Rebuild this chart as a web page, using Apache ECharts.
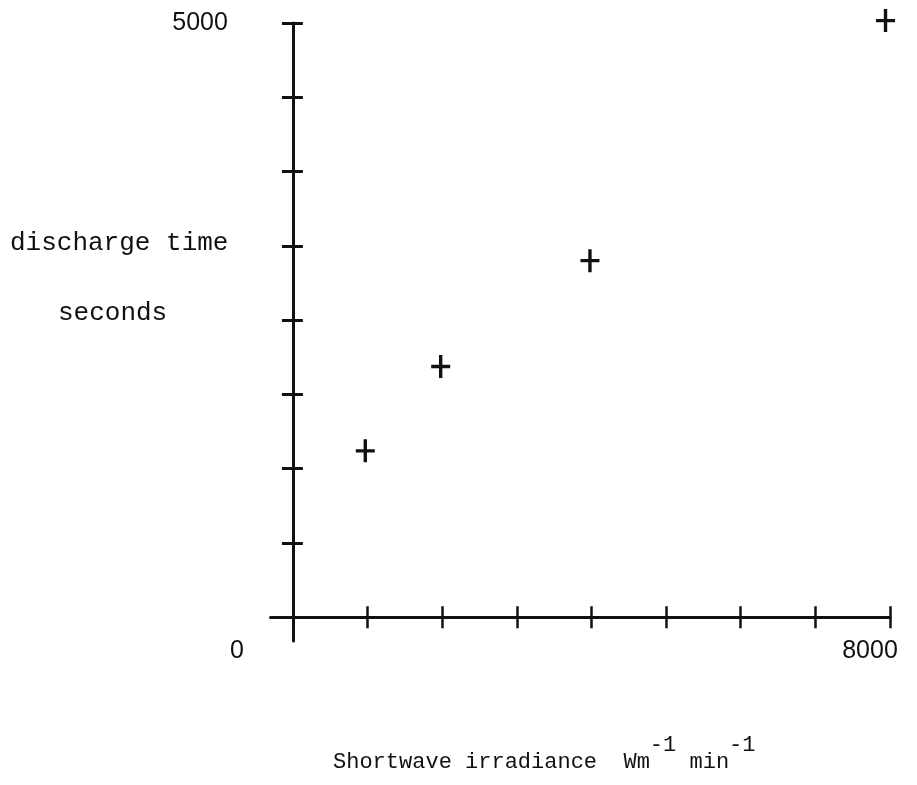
<!DOCTYPE html>
<html>
<head>
<meta charset="utf-8">
<script src="https://cdn.jsdelivr.net/npm/echarts@6/dist/echarts.min.js"></script>
<style>
  html, body { margin: 0; padding: 0; background: #fff; }
  #chart { width: 917px; height: 785px; }
</style>
</head>
<body>
<div id="chart"></div>
<script>
// data
const irradiance = [970, 1980, 3980, 7940]
const dischargeTime = [1400, 2110, 3000, 5020]

// tick marks and the few printed labels
const xTicks = [1000, 2000, 3000, 4000, 5000, 6000, 7000, 8000]
const yTicks = [625, 1250, 1875, 2500, 3125, 3750, 4375, 5000]
const xLabels = [0, 8000]
const yLabels = [5000]

const ink = '#111'
const mono = 'Liberation Mono'
const sans = 'Liberation Sans'

const chart = echarts.init(document.getElementById('chart'))

// axes start a bit below zero so the lines run past the origin like the drawing
const xMin = -300
const yMin = -200

// one axis carries ticks inwards, the twin outwards -> ticks cross the line
const makeX = (inside, main) => ({
  type: 'value',
  position: 'bottom',
  min: xMin,
  max: 8000,
  offset: -23.8,
  splitLine: { show: false },
  axisLine: { show: main, onZero: false, lineStyle: { color: ink, width: 3 } },
  axisTick: {
    show: true,
    inside: inside,
    length: 11,
    customValues: xTicks,
    lineStyle: { color: ink, width: 2.5 },
  },
  axisLabel: {
    show: main,
    customValues: xLabels,
    margin: 21,
    formatter: (v) => (v === 0 ? '{z|0}' : '{e|' + v + '}'),
    rich: {
      z: { fontFamily: sans, fontSize: 25, color: ink, padding: [0, 112, 0, 0] },
      e: { fontFamily: sans, fontSize: 25, color: ink, padding: [0, 40, 0, 0] },
    },
  },
  name: main ? '{b|Shortwave irradiance  Wm}{s|-1}{b| min}{s|-1}' : '',
  nameLocation: 'middle',
  nameGap: 132,
  nameTextStyle: {
    padding: [0, 72, 0, 0],
    rich: {
      b: { fontFamily: mono, fontSize: 22, color: ink, verticalAlign: 'bottom', lineHeight: 24 },
      s: { fontFamily: mono, fontSize: 22, color: ink, verticalAlign: 'bottom', lineHeight: 24, padding: [0, 0, 17, 0] },
    },
  },
})

const makeY = (inside, main) => ({
  type: 'value',
  position: 'left',
  min: yMin,
  max: 5000,
  offset: -22.4,
  splitLine: { show: false },
  axisLine: { show: main, onZero: false, lineStyle: { color: ink, width: 3 } },
  axisTick: {
    show: true,
    inside: inside,
    length: inside ? 10 : 11,
    customValues: yTicks,
    lineStyle: { color: ink, width: 3 },
  },
  axisLabel: {
    show: main,
    customValues: yLabels,
    margin: 65,
    formatter: (v) => String(v),
    fontFamily: sans,
    fontSize: 25,
    color: ink,
    padding: [12, 0, 0, 0],
  },
})

chart.setOption({
  backgroundColor: '#fff',
  animation: false,
  grid: { left: 270.5, right: 27, top: 23, bottom: 144 },
  xAxis: [makeX(true, true), makeX(false, false)],
  yAxis: [makeY(true, true), makeY(false, false)],
  graphic: [
    {
      type: 'text',
      left: 10,
      top: 230,
      style: { text: 'discharge time', fontFamily: mono, fontSize: 26, fill: ink },
    },
    {
      type: 'text',
      left: 58,
      top: 300,
      style: { text: 'seconds', fontFamily: mono, fontSize: 26, fill: ink },
    },
  ],
  series: [
    {
      type: 'scatter',
      xAxisIndex: 0,
      yAxisIndex: 0,
      clip: false,
      symbol: 'path://M-1.6,-11H1.6V11H-1.6Z M-9,-1.6H9V1.6H-9Z',
      symbolSize: [19, 23],
      itemStyle: { color: ink, opacity: 1 },
      data: irradiance.map((x, i) => [x, dischargeTime[i]]),
    },
  ],
})
</script>
</body>
</html>
